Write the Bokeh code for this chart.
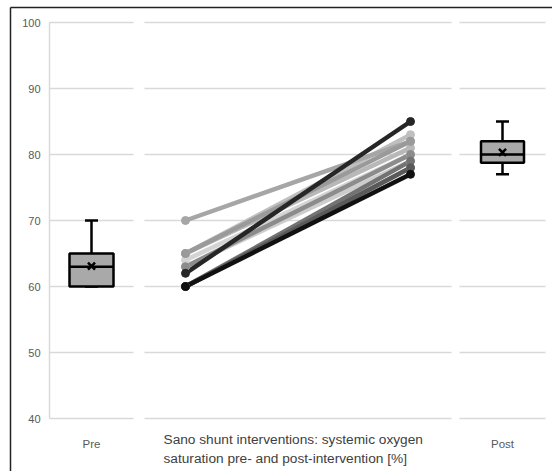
import numpy as np
from bokeh.plotting import figure
from bokeh.models import Range1d, ColumnDataSource
from bokeh.core.properties import value
from bokeh.embed import file_html
from bokeh.resources import INLINE

# ---------------- data ----------------
pre_values = [70, 62, 65, 65, 65, 64, 63, 63, 60, 60, 60, 60]
post_values = [82, 85, 83, 82, 81, 80, 80, 79, 79, 78, 78, 77]
line_colors = ["#a6a6a6", "#262626", "#bfbfbf", "#9a9a9a", "#b8b8b8", "#d4d4d4",
               "#8c8c8c", "#cdcdcd", "#737373", "#a3a3a3", "#5a5a5a", "#111111"]
y_ticks = [40, 50, 60, 70, 80, 90, 100]
tick_labels = ["40", "50", "60", "70", "80", "90", "100"]
group_labels = ["Pre", "Post"]
title_lines = ["Sano shunt interventions: systemic oxygen",
               "saturation pre- and post-intervention [%]"]

# ---------------- layout (pixel-based x, value-based y) ----------------
W, H = 552, 471
PX_PER_UNIT = 6.6          # 10 units = 66 px
Y_TOP_PX = 22              # value 100 at 22 px from top


def ypx(px):
    return 100 - (px - Y_TOP_PX) / PX_PER_UNIT


p = figure(width=W, height=H, output_backend="svg", toolbar_location=None,
           x_range=Range1d(0, W), y_range=Range1d(ypx(H), ypx(0)),
           x_axis_location=None, y_axis_location=None, min_border=0)
p.grid.visible = False
p.outline_line_color = None
p.background_fill_color = "white"
p.border_fill_color = "white"

# outer black frame (left and top)
p.segment(x0=[10, 10], y0=[ypx(7), ypx(7)], x1=[10, W], y1=[ypx(H), ypx(7)],
          line_color="#222222", line_width=1.5)

# panels' gridlines
panels = [(49, 133), (144, 451), (459, 545)]
gx0, gx1, gy = [], [], []
for a, b in panels:
    for t in y_ticks:
        gx0.append(a); gx1.append(b); gy.append(t)
p.segment(x0=gx0, y0=gy, x1=gx1, y1=gy, line_color="#d9d9d9", line_width=1.5)
# y axis line
p.segment(x0=[49], y0=[y_ticks[0]], x1=[49], y1=[y_ticks[-1]],
          line_color="#d9d9d9", line_width=1.5)

# y tick labels
p.text(x=[40] * len(y_ticks), y=y_ticks, text=tick_labels,
       text_align="right", text_baseline="middle", text_font=value("Liberation Sans"),
       text_font_size="11px", text_color="#595959")


# ---------------- boxplots ----------------
def box(vals, xc, half_w, cap_half):
    v = np.array(vals, dtype=float)
    q1, med, q3 = np.percentile(v, [25, 50, 75])
    iqr = q3 - q1
    hi = v[v <= q3 + 1.5 * iqr].max()
    lo = v[v >= q1 - 1.5 * iqr].min()
    mean = v.mean()
    # whiskers
    p.segment(x0=[xc, xc], y0=[q3, q1], x1=[xc, xc], y1=[hi, lo],
              line_color="black", line_width=2.5)
    p.segment(x0=[xc - cap_half, xc - cap_half], y0=[hi, lo],
              x1=[xc + cap_half, xc + cap_half], y1=[hi, lo],
              line_color="black", line_width=2.5)
    p.quad(left=[xc - half_w], right=[xc + half_w], bottom=[q1], top=[q3],
           fill_color="#a9a9a9", line_color="black", line_width=2.5)
    p.segment(x0=[xc - half_w], y0=[med], x1=[xc + half_w], y1=[med],
              line_color="black", line_width=2.5)
    p.scatter(x=[xc], y=[mean], marker="x", size=10, line_color="black", line_width=2.5)


box(pre_values, 91, 22, 6.5)
box(post_values, 502, 21.5, 6.5)

# ---------------- paired lines ----------------
X_PRE, X_POST = 185, 410
order = sorted(range(len(pre_values)),
               key=lambda i: -int(line_colors[i][1:3], 16))  # light first, dark last
xs = [[X_PRE, X_POST] for _ in order]
ys = [[pre_values[i], post_values[i]] for i in order]
cols = [line_colors[i] for i in order]
src = ColumnDataSource(dict(xs=xs, ys=ys, c=cols))
p.multi_line(xs="xs", ys="ys", line_color="c", line_width=4.5, source=src)
pts = ColumnDataSource(dict(
    x=[X_PRE] * len(order) + [X_POST] * len(order),
    y=[pre_values[i] for i in order] + [post_values[i] for i in order],
    c=cols + cols))
p.scatter(x="x", y="y", size=8, fill_color="c", line_color="c", source=pts)

# ---------------- category labels ----------------
p.text(x=[91, 502], y=[ypx(443), ypx(443)], text=group_labels,
       text_align="center", text_baseline="middle", text_font=value("Liberation Sans"),
       text_font_size="11.5px", text_color="#595959")
p.text(x=[163, 163], y=[ypx(439), ypx(458)], text=title_lines,
       text_align="left", text_baseline="middle", text_font=value("Liberation Sans"),
       text_font_size="13.7px", text_color="#404040")

open("out.html", "w").write(file_html(p, INLINE))
